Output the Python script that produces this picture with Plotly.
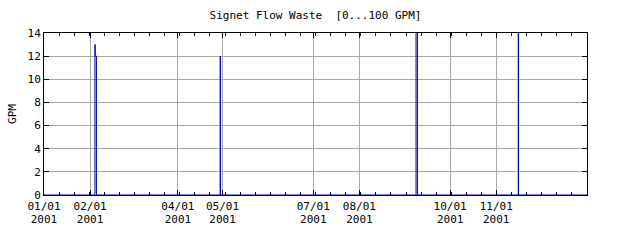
import plotly.graph_objects as go

# ---- data ----
times = [
    "2001-01-01 00:00",
    "2001-02-04 06:00", "2001-02-04 10:00", "2001-02-05 06:00",
    "2001-04-29 10:00", "2001-04-29 15:00",
    "2001-09-08 02:00", "2001-09-09 00:00",
    "2001-11-15 19:00", "2001-11-16 00:00",
    "2002-01-01 00:00",
]
gpm = [0, 13, 12, 0, 12, 0, 20, 0, 16, 0, 0]

month_ticks = ["2001-01-01", "2001-02-01", "2001-04-01", "2001-05-01",
               "2001-07-01", "2001-08-01", "2001-10-01", "2001-11-01"]
month_labels = ["01/01", "02/01", "04/01", "05/01",
                "07/01", "08/01", "10/01", "11/01"]
year_labels = ["2001"] * len(month_ticks)
y_ticks = [0, 2, 4, 6, 8, 10, 12, 14]

title_text = "Signet Flow Waste  [0...100 GPM]"
y_title = "GPM"

FONT = "DejaVu Sans Mono"
BLUE = "#0000aa"
GRID = "#a8a8a8"
X_RANGE = ["2001-01-01", "2002-01-01"]

fig = go.Figure()
fig.add_trace(go.Scatter(
    x=times, y=gpm, mode="lines",
    line=dict(color=BLUE, width=1, shape="hv"),
    hoverinfo="skip", showlegend=False,
))
# invisible trace to carry the second (year) label axis
fig.add_trace(go.Scatter(
    x=[X_RANGE[0]], y=[0], xaxis="x2", mode="markers",
    marker=dict(opacity=0), hoverinfo="skip", showlegend=False,
))

fig.update_layout(
    width=640, height=240,
    margin=dict(l=44, r=53, t=33, b=45),
    paper_bgcolor="white", plot_bgcolor="white",
    font=dict(family=FONT, size=11, color="black"),
    title=dict(text=title_text, x=0.493, xanchor="center", y=0.935, yanchor="middle",
               font=dict(family=FONT, size=11, color="black")),
    showlegend=False,
    xaxis=dict(
        type="date",
        range=X_RANGE,
        tickmode="array", tickvals=month_ticks, ticktext=month_labels,
        ticks="inside", ticklen=5, tickcolor="black", tickwidth=1,
        showgrid=True, gridcolor=GRID, gridwidth=1,
        showline=True, linecolor="black", linewidth=1, mirror="ticks",
        zeroline=False,
        minor=dict(ticks="inside", ticklen=3, tickcolor="black",
                   dtick=365 * 86400000 / 36, tick0="2001-01-01", showgrid=False),
        tickfont=dict(family=FONT, size=11, color="black"),
        ticklabelstandoff=1,
        layer="below traces",
    ),
    xaxis2=dict(
        type="date", range=X_RANGE, overlaying="x", side="bottom", anchor="y",
        tickmode="array", tickvals=month_ticks, ticktext=year_labels,
        ticks="", showgrid=False, showline=False, zeroline=False,
        ticklabelstandoff=16,
        tickfont=dict(family=FONT, size=11, color="black"),
    ),
    yaxis=dict(
        range=[0, 14],
        tickmode="array", tickvals=y_ticks,
        ticks="inside", ticklen=5, tickcolor="black", tickwidth=1,
        showgrid=True, gridcolor=GRID, gridwidth=1,
        showline=True, linecolor="black", linewidth=1, mirror="ticks",
        zeroline=False,
        title=dict(text=y_title, font=dict(family=FONT, size=11, color="black"), standoff=8),
        tickfont=dict(family=FONT, size=11, color="black"),
        layer="below traces",
    ),
)

fig.write_html("out.html")
